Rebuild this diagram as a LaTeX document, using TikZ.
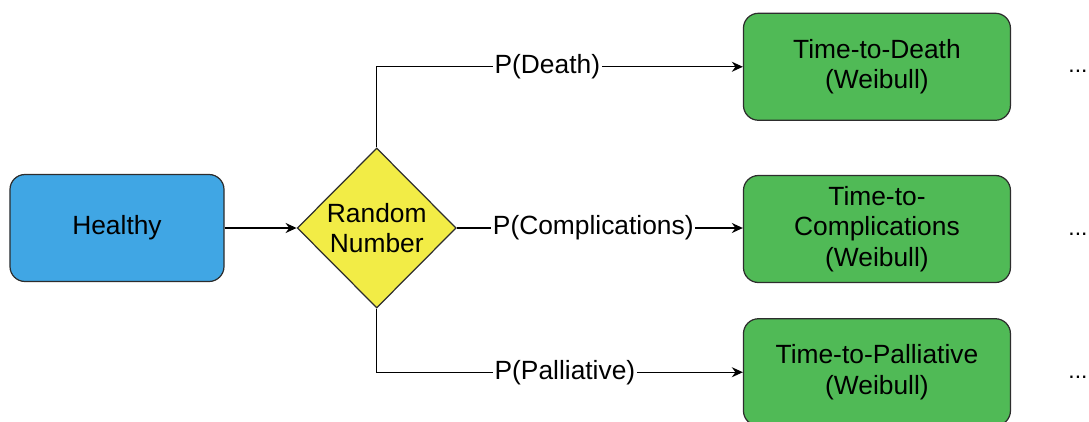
\documentclass[tikz,border=0pt]{standalone}
\usepackage{fontspec}
\setmainfont{Liberation Sans}
\usepackage{xcolor}
\usepackage{tikz}
\usetikzlibrary{shapes.geometric, arrows.meta, positioning}
\definecolor{stateblue}{RGB}{64,166,228}
\definecolor{eventgreen}{RGB}{80,186,86}
\definecolor{chanceyellow}{RGB}{242,236,70}
\definecolor{edgegray}{RGB}{45,45,45}
\tikzset{block/.style={rectangle,draw=edgegray,line width=0.7pt,rounded corners=0.3cm,align=center,minimum width=4.28cm,minimum height=2.14cm,inner sep=0pt},
         state/.style={block,fill=stateblue},
         event/.style={block,fill=eventgreen,minimum width=5.34cm},
         chance/.style={diamond,draw=edgegray,line width=0.7pt,fill=chanceyellow,align=center,minimum width=3.18cm,minimum height=3.2cm,inner sep=0pt},
         prob/.style={fill=white,inner sep=1pt},
         more/.style={inner sep=0pt,yshift=-0.1cm,font=\fontsize{13}{15}\selectfont},
         arrow/.style={-{Stealth[length=2.2mm,width=2mm]},line width=0.8pt}}

\begin{document}
\begin{tikzpicture}[font=\fontsize{15}{17.5}\selectfont]
    \useasboundingbox (0,0) rectangle (21.78,-8.42);
    \node (healthy) [state] at (2.34,-4.56) {Healthy};
    \node (rand) [chance, right=1.44cm of healthy] {Random\\Number};
    \node (comp) [event, right=5.72cm of rand, yshift=-0.02cm] {Time-to-\\Complications\\(Weibull)};
    \node (death) [event, above=1.08cm of comp] {Time-to-Death\\(Weibull)};
    \node (pall) [event, below=0.7cm of comp] {Time-to-Palliative\\(Weibull)};
    \node (dotsd) [more, right=1.14cm of death] {...};
    \node (dotsc) [more, right=1.14cm of comp] {...};
    \node (dotsp) [more, right=1.14cm of pall] {...};
    \draw[arrow] (healthy) -- (rand);
    \draw[arrow] (rand.north) |- node[prob, pos=0.733] {P(Death)} (death.west);
    \draw[arrow] (rand.east) -- node[prob, pos=0.477] {P(Complications)} (comp.west |- rand.east);
    \draw[arrow] (rand.south) |- node[prob, pos=0.757] {P(Palliative)} (pall.west);
  \end{tikzpicture}
\end{document}
